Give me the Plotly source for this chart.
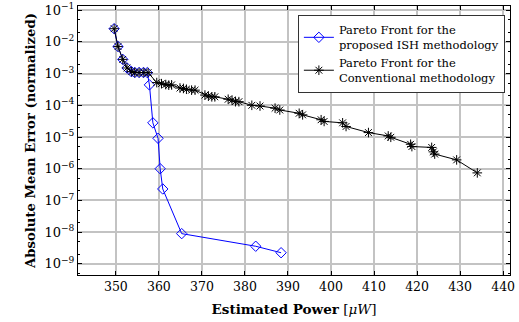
import plotly.graph_objects as go

# Pareto front: proposed ISH methodology
ish_power = [349.6, 350.5, 351.6, 352.6, 353.6, 354.4, 355.4, 356.4, 357.3,
             357.8, 358.6, 359.8, 360.3, 360.9, 365.3, 382.5, 388.4]
ish_error = [2.6e-2, 7.1e-3, 2.8e-3, 1.5e-3, 1.15e-3, 1.08e-3, 1.08e-3, 1.08e-3, 1.07e-3,
             4.4e-4, 2.8e-5, 9.1e-6, 1.0e-6, 2.3e-7, 9.0e-9, 3.6e-9, 2.25e-9]

# Pareto front: conventional methodology
conv_power = [349.6, 350.5, 351.6, 352.6, 353.7, 354.4, 355.4, 356.5, 357.5,
              359.5, 360.6, 361.6, 362.3, 362.95,
              364.9, 365.7, 366.4, 367.6, 368.4,
              370.7, 371.5, 372.3, 373.0,
              376.1, 377.0, 377.8, 378.6,
              381.6, 383.5, 387.0, 388.1, 392.6, 393.4, 397.7, 398.4,
              402.7, 403.5, 408.7, 413.3, 413.9, 418.5, 418.8,
              423.4, 423.8, 424.1, 429.2, 434.0]
conv_error = [2.6e-2, 7.1e-3, 2.8e-3, 1.5e-3, 1.15e-3, 1.08e-3, 1.08e-3, 1.08e-3, 1.07e-3,
              5.2e-4, 4.8e-4, 4.5e-4, 4.3e-4, 4.4e-4,
              3.5e-4, 3.4e-4, 3.2e-4, 3.0e-4, 3.0e-4,
              2.1e-4, 1.95e-4, 1.85e-4, 1.85e-4,
              1.55e-4, 1.45e-4, 1.3e-4, 1.3e-4,
              1.0e-4, 9.5e-5, 8.1e-5, 7.1e-5, 5.6e-5, 5.0e-5, 3.5e-5, 3.1e-5,
              2.8e-5, 2.15e-5, 1.38e-5, 1.08e-5, 9.8e-6, 5.9e-6, 5.0e-6,
              4.7e-6, 3.4e-6, 2.9e-6, 1.9e-6, 7.4e-7]

x_ticks = [350, 360, 370, 380, 390, 400, 410, 420, 430, 440]
y_exponents = [-9, -8, -7, -6, -5, -4, -3, -2, -1]

FONT = "DejaVu Serif"
GRID = "rgb(195,195,195)"

fig = go.Figure()
fig.add_trace(go.Scatter(
    x=ish_power, y=ish_error, mode="lines+markers",
    name="Pareto Front for the<br>proposed ISH methodology",
    line=dict(color="#0000ff", width=1),
    marker=dict(symbol="diamond-open", size=8, color="#0000ff", line=dict(width=1)),
))
fig.add_trace(go.Scatter(
    x=conv_power, y=conv_error, mode="lines+markers",
    name="Pareto Front for the<br>Conventional methodology",
    line=dict(color="#000000", width=1),
    marker=dict(symbol="asterisk-open", size=8, color="#000000", line=dict(width=1)),
))

fig.update_layout(
    template="none",
    width=519, height=322,
    margin=dict(l=78, r=9, t=6, b=47),
    paper_bgcolor="white", plot_bgcolor="white",
    font=dict(family=FONT, size=12, color="black"),
    legend=dict(
        x=0.509, y=0.967, xanchor="left", yanchor="top",
        bgcolor="white", bordercolor="#333333", borderwidth=1,
        font=dict(family=FONT, size=11.5),
        tracegroupgap=0, itemwidth=30,
    ),
)
fig.update_xaxes(
    range=[341.2, 441.6],
    tickvals=x_ticks, ticks="inside", ticklen=4, tickcolor="black",
    showline=True, linecolor="black", linewidth=1, mirror="ticks",
    showgrid=True, gridcolor=GRID, gridwidth=1.5, zeroline=False,
    title=dict(text="<b>Estimated Power</b> [<i>μW</i>]", standoff=11,
               font=dict(family=FONT, size=13.5)),
    tickfont=dict(family=FONT, size=12.5),
)
fig.update_yaxes(
    type="log", range=[-9.35, -0.87],
    tickvals=[10.0 ** e for e in y_exponents],
    ticktext=["10<sup>−%d</sup>" % -e for e in y_exponents],
    ticks="inside", ticklen=4, tickcolor="black",
    minor=dict(ticks="inside", ticklen=2, tickcolor="black", showgrid=False),
    showline=True, linecolor="black", linewidth=1, mirror="ticks",
    showgrid=True, gridcolor=GRID, gridwidth=1.5, zeroline=False,
    title=dict(text="<b>Absolute Mean Error (normalized)</b>", standoff=5,
               font=dict(family=FONT, size=13.2)),
    tickfont=dict(family=FONT, size=13),
)

fig.write_html("out.html")
